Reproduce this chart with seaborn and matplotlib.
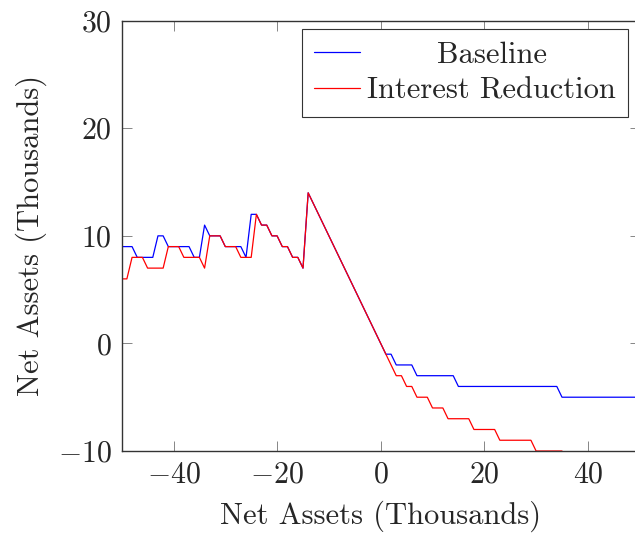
import matplotlib
matplotlib.use('Agg')
import matplotlib.pyplot as plt
import seaborn as sns
import pandas as pd

# ---- data ----
x_assets = list(range(-50, 51))

baseline = [9, 9, 9, 8, 8, 8, 8, 10, 10, 9, 9, 9, 9, 9, 8, 8, 11, 10, 10, 10,
            9, 9, 9, 9, 8, 12, 12, 11, 11, 10, 10, 9, 9, 8, 8, 7, 14,
            13, 12, 11, 10, 9, 8, 7, 6, 5, 4, 3, 2, 1, 0,
            -1, -1, -2, -2, -2, -2,
            -3, -3, -3, -3, -3, -3, -3, -3,
            -4, -4, -4, -4, -4, -4, -4, -4, -4, -4, -4, -4, -4, -4, -4, -4, -4, -4, -4, -4,
            -5, -5, -5, -5, -5, -5, -5, -5, -5, -5, -5, -5, -5, -5, -5, -5]

interest_reduction = [6, 6, 8, 8, 8, 7, 7, 7, 7, 9, 9, 9, 8, 8, 8, 8, 7, 10, 10, 10,
                      9, 9, 9, 8, 8, 8, 12, 11, 11, 10, 10, 9, 9, 8, 8, 7, 14,
                      13, 12, 11, 10, 9, 8, 7, 6, 5, 4, 3, 2, 1, 0,
                      -1, -2, -3, -3, -4, -4, -5, -5, -5, -6, -6, -6,
                      -7, -7, -7, -7, -7,
                      -8, -8, -8, -8, -8,
                      -9, -9, -9, -9, -9, -9, -9,
                      -10, -10, -10, -10, -10, -10,
                      -11, -11, -11, -11, -11, -11,
                      -12, -12, -12, -12, -12, -12,
                      -13, -13, -13]

series_names = ["Baseline", "Interest Reduction"]
series_colors = ["#0000ff", "#ff0000"]
x_ticks = [-40, -20, 0, 20, 40]
y_ticks = [-10, 0, 10, 20, 30]
x_label = "Net Assets (Thousands)"
y_label = "Net Assets (Thousands)"

df = pd.DataFrame({
    "x": x_assets + x_assets,
    "y": baseline + interest_reduction,
    "series": [series_names[0]] * len(x_assets) + [series_names[1]] * len(x_assets),
})

# ---- style ----
sns.set_style("ticks")
plt.rcParams['font.family'] = ['cmr10', 'DejaVu Serif']
plt.rcParams['mathtext.fontset'] = 'cm'
plt.rcParams['axes.formatter.use_mathtext'] = True
FS = 22
TFS = 21.5

fig = plt.figure(figsize=(6.35, 5.35), dpi=100)
ax = fig.add_axes([121.7 / 635, 84 / 535, 518 / 635, 430.3 / 535])

sns.lineplot(data=df, x="x", y="y", hue="series", hue_order=series_names,
             palette=dict(zip(series_names, series_colors)), linewidth=0.9,
             estimator=None, ax=ax, legend=True)

ax.set_xlim(-50, 50)
ax.set_ylim(-10, 30)
ax.set_xticks(x_ticks)
ax.set_yticks(y_ticks)
ax.set_xlabel(x_label, fontsize=FS, labelpad=9)
ax.set_ylabel(y_label, fontsize=FS, labelpad=8)
ax.tick_params(direction='in', length=7, width=0.6, color='0.45',
               top=True, right=True, labelsize=TFS, pad=7)
for s in ax.spines.values():
    s.set_visible(True)
    s.set_linewidth(1.0)
    s.set_color('0.2')

leg = ax.legend(loc='upper right', bbox_to_anchor=(0.978, 0.980), borderaxespad=0,
                fontsize=FS, frameon=True, fancybox=False, framealpha=1,
                edgecolor='0.2', handlelength=1.5, handletextpad=0.25,
                labelspacing=0.28, borderpad=0.4)
leg.get_frame().set_linewidth(0.8)
for h in leg.get_lines():
    h.set_linewidth(0.9)

# center legend texts within their column (like pgfplots)
fig.canvas.draw()
r = fig.canvas.get_renderer()
texts = leg.get_texts()
widths = [t.get_window_extent(r).width for t in texts]
wmax = max(widths)
for t, w in zip(texts, widths):
    t.set_position(((wmax - w) / 2, 0))

fig.savefig("out.png", dpi=100)
